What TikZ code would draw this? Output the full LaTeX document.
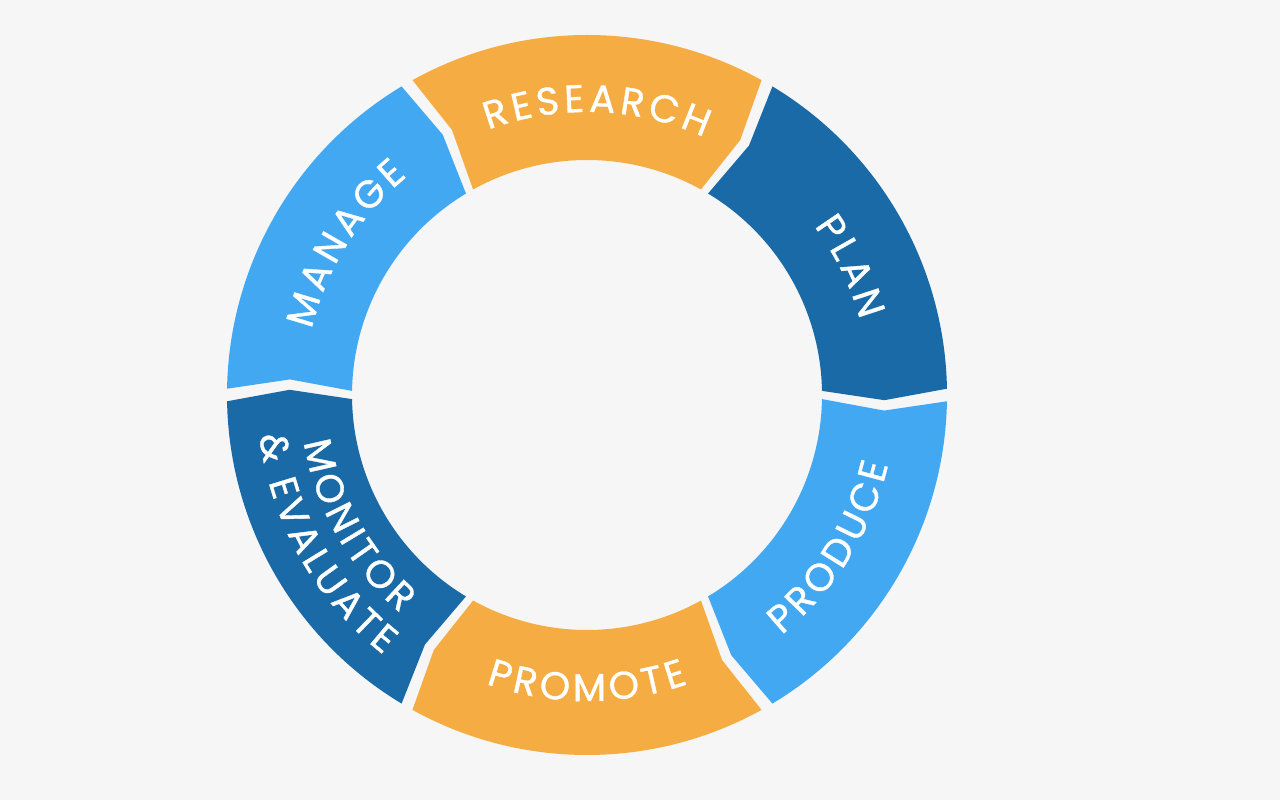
\documentclass[tikz,border=0pt]{standalone}
\usepackage{fontspec}
\newfontfamily\ringfont{Poppins}[FakeBold=0.9]
\usetikzlibrary{decorations.text}
\definecolor{ringorange}{RGB}{245,172,66}
\definecolor{ringdark}{RGB}{27,106,168}
\definecolor{ringlight}{RGB}{67,168,242}
\definecolor{ringbg}{RGB}{246,246,246}
\newcommand{\labelfont}{\ringfont\fontsize{11}{13}\selectfont}
\tikzset{
  seglabel/.style={font=\labelfont, text=white, decorate,
    decoration={text effects along path, text={#1}, text align=center,
      text effects/.cd, text along path,
      character widths={font=\labelfont, inner xsep=0.6pt},
      characters={font=\labelfont, text=white, inner xsep=0.6pt, inner ysep=0pt}}}
}
\begin{document}
\begin{tikzpicture}
\fill[ringbg] (0,0) rectangle (12.8,8);
\begin{scope}[shift={(5.87,4.05)}]
\foreach \c/\col in {90/ringorange,30/ringdark,-30/ringlight,-90/ringorange,-150/ringdark,150/ringlight} {
  \fill[\col] (\c+29:3.6) arc[start angle=\c+29, end angle=\c-29, radius=3.6]
    -- (\c-31:2.975) -- (\c-29:2.35) arc[start angle=\c-29, end angle=\c+29, radius=2.35]
    -- (\c+27:2.975) -- cycle;
}
\path[seglabel=RESEARCH] (116:2.83) arc[start angle=116, end angle=60, radius=2.83];
\path[seglabel=PLAN] (54:2.83) arc[start angle=54, end angle=-2, radius=2.83];
\path[seglabel=MANAGE] (176:2.83) arc[start angle=176, end angle=120, radius=2.83];
\path[seglabel=PRODUCE] (-60:3.09) arc[start angle=-60, end angle=-4, radius=3.09];
\path[seglabel=PROMOTE] (-118:3.06) arc[start angle=-118, end angle=-62, radius=3.06];
\path[seglabel=MONITOR] (181:2.87) arc[start angle=181, end angle=238, radius=2.87];
\path[seglabel={{\&} EVALUATE}] (181:3.30) arc[start angle=181, end angle=238, radius=3.30];
\end{scope}
\end{tikzpicture}
\end{document}
